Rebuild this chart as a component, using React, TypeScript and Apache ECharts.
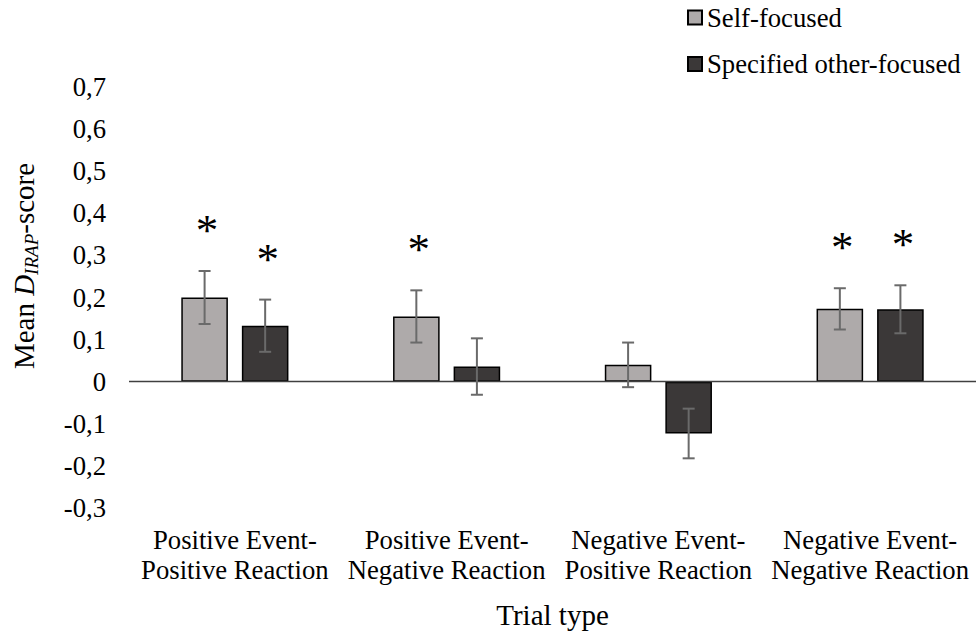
import React, { useEffect, useRef } from "react";
import * as echarts from "echarts";

const categories = [
  "Positive Event-\nPositive Reaction",
  "Positive Event-\nNegative Reaction",
  "Negative Event-\nPositive Reaction",
  "Negative Event-\nNegative Reaction",
];
const seriesNames = ["Self-focused", "Specified other-focused"];
const selfMeans = [0.2, 0.155, 0.04, 0.173];
const selfErrors = [0.063, 0.062, 0.053, 0.049];
const selfSignificant = [1, 1, 0, 1];
const otherMeans = [0.133, 0.036, -0.123, 0.172];
const otherErrors = [0.062, 0.067, 0.059, 0.057];
const otherSignificant = [1, 0, 0, 1];
const yTickLabels = ["-0,3", "-0,2", "-0,1", "0", "0,1", "0,2", "0,3", "0,4", "0,5", "0,6", "0,7"];
const Y_MIN = -0.3;
const Y_MAX = 0.7;
const Y_STEP = 0.1;

const FONT = "Liberation Serif";
const LIGHT = "#AEAAAA";
const DARK = "#3B3838";
const ERR_COLOR = "#6a6a6a";
const BAR_W_RATIO = 0.22;
const BAR_GAP_RATIO = 0.3;

function errorSeries(means: number[], errs: number[], sig: number[], side: number) {
  return {
    type: "custom",
    z: 5,
    silent: true,
    data: means.map((m, i) => [i, m, errs[i], sig[i]]),
    encode: { x: 0, y: 1 },
    renderItem: (params: any, api: any) => {
      const idx = api.value(0);
      const mean = api.value(1);
      const err = api.value(2);
      const s = api.value(3);
      const c = api.coord([idx, mean]);
      const band = api.size([1, 0])[0];
      const bw = band * BAR_W_RATIO;
      const x = c[0] + side * (bw * (1 + BAR_GAP_RATIO)) / 2;
      const top = api.coord([idx, mean + err])[1];
      const bot = api.coord([idx, mean - err])[1];
      const cap = 6;
      const ls = { stroke: ERR_COLOR, lineWidth: 2 };
      const children: any[] = [
        { type: "line", shape: { x1: x, y1: top, x2: x, y2: bot }, style: ls },
        { type: "line", shape: { x1: x - cap, y1: top, x2: x + cap, y2: top }, style: ls },
        { type: "line", shape: { x1: x - cap, y1: bot, x2: x + cap, y2: bot }, style: ls },
      ];
      if (s) {
        children.push({
          type: "text",
          x: x + 2.5,
          y: top - 41,
          style: {
            text: "*",
            font: "45px " + FONT,
            fontSize: 45,
            fontFamily: FONT,
            fill: "#000",
            align: "center",
            verticalAlign: "middle",
          },
        });
      }
      return { type: "group", children };
    },
  };
}

export default function App() {
  const ref = useRef<HTMLDivElement>(null);
  useEffect(() => {
    document.body.style.margin = "0";
    if (!ref.current) return;
    const chart = echarts.init(ref.current, undefined, { renderer: "svg" });
    const option: any = {
      animation: false,
      textStyle: { fontFamily: FONT, color: "#000" },
      grid: { left: 129, right: 0, top: 87, bottom: 127, containLabel: false },
      legend: {
        orient: "vertical",
        left: 687,
        top: 4,
        padding: 0,
        itemWidth: 14,
        itemHeight: 14,
        itemGap: 19.5,
        icon: "rect",
        data: seriesNames,
        textStyle: { fontSize: 26.7, fontFamily: FONT, color: "#000", lineHeight: 27 },
      },
      xAxis: {
        type: "category",
        data: categories,
        axisLine: { show: false, onZero: false },
        axisTick: { show: false },
        axisLabel: {
          interval: 0,
          fontSize: 26.7,
          lineHeight: 30,
          color: "#000",
          fontFamily: FONT,
          margin: 17,
        },
        name: "Trial type",
        nameLocation: "middle",
        nameGap: 92,
        nameTextStyle: { fontSize: 29, color: "#000", fontFamily: FONT },
      },
      yAxis: {
        type: "value",
        min: Y_MIN,
        max: Y_MAX,
        interval: Y_STEP,
        axisLine: { show: false },
        axisTick: { show: false },
        splitLine: { show: false },
        axisLabel: {
          fontSize: 26.7,
          color: "#000",
          fontFamily: FONT,
          margin: 23,
          formatter: (v: number) => yTickLabels[Math.round((v - Y_MIN) / Y_STEP)] ?? "",
        },
      },
      graphic: [
        {
          type: "text",
          x: 24,
          y: 266,
          rotation: Math.PI / 2,
          style: {
            text: "{a|Mean }{d|D}{s|IRAP}{a|-score}",
            align: "center",
            verticalAlign: "middle",
            fill: "#000",
            rich: {
              a: { fontSize: 29, fontFamily: FONT, lineHeight: 34, fill: "#000" },
              d: { fontSize: 29, fontFamily: FONT, fontStyle: "italic", lineHeight: 34, fill: "#000" },
              s: { fontSize: 19, fontFamily: FONT, fontStyle: "italic", lineHeight: 24, verticalAlign: "bottom", fill: "#000" },
            },
          },
        },
      ],
      series: [
        {
          name: seriesNames[0],
          type: "bar",
          data: selfMeans,
          barWidth: BAR_W_RATIO * 100 + "%",
          barGap: BAR_GAP_RATIO * 100 + "%",
          itemStyle: { color: LIGHT, borderColor: "#000", borderWidth: 1.5 },
          markLine: {
            silent: true,
            symbol: "none",
            label: { show: false },
            lineStyle: { color: "#404040", width: 1.3, type: "solid" },
            data: [{ yAxis: 0 }],
          },
        },
        {
          name: seriesNames[1],
          type: "bar",
          data: otherMeans,
          barWidth: BAR_W_RATIO * 100 + "%",
          barGap: BAR_GAP_RATIO * 100 + "%",
          itemStyle: { color: DARK, borderColor: "#000", borderWidth: 1.5 },
        },
        errorSeries(selfMeans, selfErrors, selfSignificant, -1),
        errorSeries(otherMeans, otherErrors, otherSignificant, 1),
      ],
    };
    chart.setOption(option);
    return () => chart.dispose();
  }, []);
  return <div ref={ref} style={{ width: 976, height: 635 }} />;
}
